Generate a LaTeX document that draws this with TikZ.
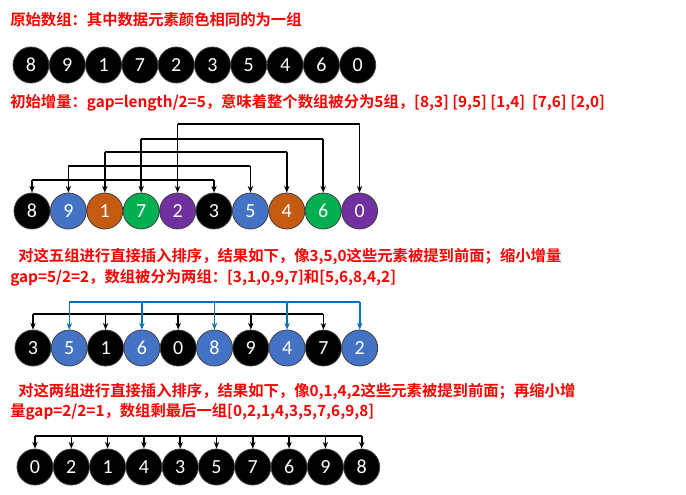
\documentclass[tikz,border=0pt]{standalone}
\usepackage{fontspec}
\setmainfont{Carlito}
\newfontfamily\cjk{Noto Sans CJK SC}[BoldFont=* Bold]
\usetikzlibrary{arrows.meta}
\definecolor{cblue}{HTML}{4472C4}
\definecolor{corange}{HTML}{C55A11}
\definecolor{cgreen}{HTML}{00B050}
\definecolor{cpurple}{HTML}{7030A0}
\definecolor{lblue}{HTML}{0070C0}
\begin{document}
\begin{tikzpicture}[x=0.75pt,y=-0.75pt,
  ball/.style={circle,draw=black!75,line width=0.6pt,minimum size=27pt,inner sep=0pt,text=white,font=\fontsize{15}{15}\selectfont},
  captxt/.style={anchor=west,text=red,font=\cjk\bfseries\fontsize{11.5}{14}\selectfont,inner sep=0pt},
  con/.style={line width=1.2pt,-{Stealth[length=5pt,width=4pt]}},
  bar/.style={line width=1.2pt}]
\useasboundingbox (0,0) rectangle (686,494);
\node[captxt] (t1) at (10,20) {原始数组：其中数据元素颜色相同的为一组};
\node[captxt] (t2) at (10,103) {初始增量：gap=length/2=5，意味着整个数组被分为5组，[8,3] [9,5] [1,4]\ \ [7,6] [2,0]};
\node[captxt] (t3) at (18,257) {对这五组进行直接插入排序，结果如下，像3,5,0这些元素被提到前面；缩小增量};
\node[captxt] (t4) at (10,278) {gap=5/2=2，数组被分为两组：[3,1,0,9,7]和[5,6,8,4,2]};
\node[captxt] (t5) at (18,392) {对这两组进行直接插入排序，结果如下，像0,1,4,2这些元素被提到前面；再缩小增};
\node[captxt] (t6) at (10,412) {量gap=2/2=1，数组剩最后一组[0,2,1,4,3,5,7,6,9,8]};
% row 1
\foreach \v [count=\i] in {8,9,1,7,2,3,5,4,6,0}
  \node[ball,fill=black] (a\i) at ({31+36.3*(\i-1)},65) {\v};
% row 2
\foreach \v/\c [count=\i] in {8/black,9/cblue,1/corange,7/cgreen,2/cpurple,3/black,5/cblue,4/corange,6/cgreen,0/cpurple}
  \node[ball,fill=\c] (b\i) at ({32+36.4*(\i-1)},211) {\v};
\foreach \i/\j/\y in {1/6/180,2/7/166,3/8/152,4/9/139,5/10/124}{
  \coordinate (p\i) at (b\i.north|-0,\y);
  \coordinate (q\i) at (b\j.north|-0,\y);
  \draw[bar] (p\i) -- (q\i);
  \draw[con] (p\i) -- (b\i.north);
  \draw[con] (q\i) -- (b\j.north);
}
% row 3
\foreach \v/\c [count=\i] in {3/black,5/cblue,1/black,6/cblue,0/black,8/cblue,9/black,4/cblue,7/black,2/cblue}
  \node[ball,fill=\c] (c\i) at ({33+36.3*(\i-1)},348) {\v};
\coordinate (k1) at (c1.north|-0,314);
\coordinate (k9) at (c9.north|-0,314);
\draw[bar] (k1) -- (k9);
\foreach \i in {1,3,5,7,9} \draw[con] (c\i.north|-0,314) -- (c\i.north);
\coordinate (m2) at (c2.north|-0,302);
\coordinate (m10) at (c10.north|-0,302);
\draw[bar,lblue] (m2) -- (m10);
\foreach \i in {2,4,6,8,10} \draw[con,lblue] (c\i.north|-0,302) -- (c\i.north);
% row 4
\foreach \v [count=\i] in {0,2,1,4,3,5,7,6,9,8}
  \node[ball,fill=black] (d\i) at ({35+36.3*(\i-1)},467) {\v};
\coordinate (n1) at (d1.north|-0,436);
\coordinate (n10) at (d10.north|-0,436);
\draw[bar] (n1) -- (n10);
\foreach \i in {1,...,10} \draw[con] (d\i.north|-0,436) -- (d\i.north);
\end{tikzpicture}
\end{document}
